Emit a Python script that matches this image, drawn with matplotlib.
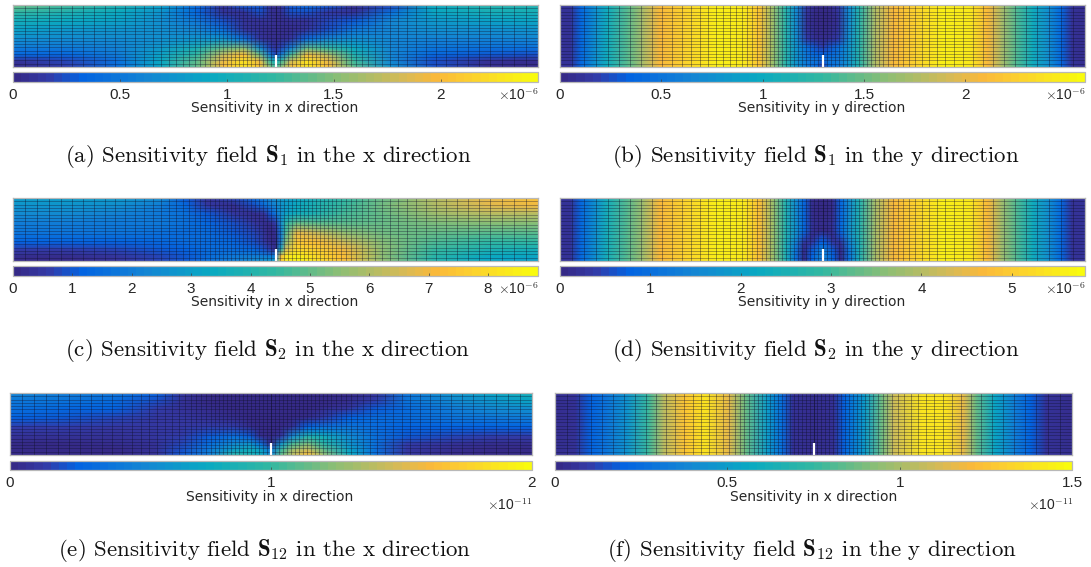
"""Six sensitivity fields on a cracked strip, with parula-like colour bars."""
import matplotlib
matplotlib.use("Agg")
import matplotlib.pyplot as plt
import numpy as np
from matplotlib.colors import LinearSegmentedColormap, Normalize

W, H = 1091, 567

# colour map anchors
CMAP_POS = [0, 0.06, 0.125, 0.25, 0.375, 0.5, 0.625, 0.75, 0.8125, 0.875, 1]
CMAP_COL = ["#352a87", "#343aa6", "#0363e1", "#1485d4", "#09a9c2", "#33b8a1",
            "#8dbe74", "#d8ba55", "#fbb93a", "#fccf30", "#f9fb0e"]

# mesh column widths, edge to crack (mirrored about the crack)
MESH_COLS = [12, 12, 12, 12, 11, 11, 11, 11, 10, 10, 10, 9, 9, 8, 8, 7, 7, 6, 6, 5, 5, 5, 5,
             4, 4, 4, 4, 4, 4, 4, 4, 4, 4, 4, 4, 4, 4, 4]
MESH_ROWS = 19

# (a) S1, x direction
a_x = [0, .1, .2, .28, .35, .4, .44, .47, .49, .5, .51, .53, .56, .6, .65, .72, .8, .9, 1]
a_y = [0, .12, .25, .4, .55, .7, .8, .9, 1]
a_vals = [
    [1.45, 1.3, 1.1, .85, .4, .1, .3, .3, .1, .05, .1, .3, .4, .3, .05, .2, .95, 1.15, 1.1],
    [1.2, 1.1, .95, .75, .35, .1, .1, .25, .1, .05, .1, .25, .25, .12, .1, .45, .9, 1.0, 1.0],
    [1.0, .95, .85, .7, .5, .25, .1, .1, .08, .05, .05, .1, .1, .2, .3, .65, .8, .85, .9],
    [.85, .8, .75, .7, .65, .45, .15, .08, .05, .05, .05, .06, .12, .25, .5, .65, .7, .72, .75],
    [.7, .68, .68, .7, .75, .75, .45, .12, .06, .05, .06, .12, .4, .65, .7, .62, .6, .6, .62],
    [.52, .52, .6, .8, 1.05, 1.4, 1.5, .7, .2, .1, .2, .6, 1.4, 1.25, .95, .62, .48, .45, .45],
    [.35, .38, .55, .85, 1.2, 1.75, 2.0, 1.4, .5, .2, .5, 1.3, 1.95, 1.65, 1.1, .62, .35, .27, .25],
    [.08, .2, .45, .9, 1.35, 1.9, 2.25, 1.9, 1.2, .9, 1.2, 1.8, 2.25, 1.9, 1.25, .65, .25, .1, .05],
    [.03, .18, .45, .9, 1.4, 2.0, 2.3, 2.05, 1.5, 1.2, 1.5, 2.0, 2.3, 2.0, 1.35, .7, .25, .06, .03],
]

# (b) S1, y direction: same outer columns on every row, only the core changes
b_x = [0, .02, .04, .07, .09, .13, .16, .19, .24, .3, .35, .38, .41, .43,
       .45, .47, .49, .5, .51, .53, .55,
       .57, .6, .635, .68, .73, .78, .815, .84, .87, .9, .93, .955, .975, 1]
b_y = [0, .3, .55, .68, .8, .9, 1]
b_left = [.1, .1, .4, .8, 1.05, 1.45, 1.75, 2.1, 2.3, 2.5, 2.45, 2.15, 1.6, 1.2]
b_right = [1.2, 1.75, 2.1, 2.3, 2.5, 2.45, 2.1, 1.75, 1.4, 1.05, .75, .4, .1, .08]
b_core = [
    [.7, .15, .03, .03, .03, .15, .7],
    [.7, .12, .03, .03, .03, .12, .7],
    [.75, .2, .05, .05, .05, .2, .75],
    [.8, .45, .25, .2, .25, .45, .8],
    [.8, .5, .4, .35, .4, .5, .8],
    [.8, .55, .5, .3, .5, .55, .8],
    [.8, .55, .4, .1, .4, .55, .8],
]

# (c) S2, x direction
c_x = [0, .1, .2, .28, .33, .37, .42, .46, .48, .49, .5, .51, .52, .54, .58, .63, .7, .8, .9, 1]
c_y = [0, .12, .25, .4, .55, .7, .82, .92, 1]
c_vals = [
    [3.0, 3.0, 2.9, 2.4, 1.0, .4, .8, 1.4, 2.0, 2.3, 2.5, 2.8, 3.0, 3.3, 3.8, 4.4, 5.1, 6.0, 6.9, 7.4],
    [2.7, 2.7, 2.5, 2.0, 1.3, .5, .2, .9, 1.6, 2.0, 2.3, 2.7, 3.0, 3.4, 3.9, 4.5, 5.2, 6.0, 6.7, 7.0],
    [2.4, 2.4, 2.2, 1.9, 1.6, 1.1, .5, .2, .5, 1.0, 1.7, 2.6, 3.1, 3.5, 4.0, 4.6, 5.1, 5.7, 6.1, 6.2],
    [2.0, 2.0, 1.9, 1.8, 1.6, 1.3, .9, .5, .15, .15, .6, 2.4, 4.2, 5.0, 4.9, 4.9, 5.0, 5.3, 5.5, 5.5],
    [1.7, 1.7, 1.7, 1.6, 1.5, 1.4, 1.1, .7, .3, .12, .15, 1.8, 4.8, 6.8, 6.3, 5.6, 5.2, 5.0, 4.9, 4.9],
    [1.2, 1.2, 1.2, 1.3, 1.4, 1.4, 1.3, .9, .5, .2, .1, 2.0, 5.5, 7.5, 7.2, 6.4, 5.4, 4.7, 4.4, 4.3],
    [.6, .6, .8, 1.0, 1.2, 1.4, 1.5, 1.3, .9, .6, .1, 3.5, 6.5, 8.0, 7.7, 7.0, 5.6, 4.5, 3.9, 3.7],
    [.2, .2, .5, .8, 1.1, 1.5, 1.8, 2.0, 2.0, 1.9, 2.0, 7.0, 8.2, 8.5, 8.0, 7.2, 5.6, 4.2, 3.4, 3.2],
    [.1, .1, .4, .75, 1.1, 1.6, 2.0, 2.4, 2.7, 2.9, 3.0, 7.5, 8.4, 8.6, 8.1, 7.3, 5.6, 4.1, 3.2, 3.0],
]

# (d) S2, y direction
d_x = [0, .02, .04, .07, .09, .13, .16, .19, .24, .3, .35, .38, .41,
       .43, .45, .465, .48, .495, .5, .505, .52, .535, .55, .57,
       .6, .635, .68, .73, .78, .815, .84, .87, .9, .93, .955, .975, 1]
d_y = [0, .25, .42, .52, .62, .72, .82, .92, 1]
d_left = [.2, .2, .9, 1.8, 2.4, 3.2, 3.9, 4.7, 5.1, 5.6, 5.5, 4.8, 3.6]
d_right = [3.9, 4.7, 5.1, 5.6, 5.5, 4.7, 3.9, 3.1, 2.3, 1.7, .9, .2, .2]
d_core = [
    [2.6, 1.6, .9, .15, .05, .05, .05, .15, .9, 1.6, 2.6],
    [2.6, 1.6, .9, .12, .05, .05, .05, .12, .9, 1.6, 2.6],
    [2.6, 1.7, .9, .25, .1, .1, .1, .25, .9, 1.7, 2.6],
    [2.6, 1.7, .9, .2, .08, .06, .08, .2, .9, 1.7, 2.6],
    [2.6, 1.6, .6, .1, .5, .6, .5, .1, .6, 1.6, 2.6],
    [2.5, 1.3, .25, .4, .8, .9, .8, .4, .25, 1.3, 2.5],
    [2.5, 1.1, .08, .7, 1.2, 1.4, 1.2, .7, .08, 1.1, 2.5],
    [2.5, 1.0, .05, .8, 1.4, 1.2, 1.4, .8, .05, 1.0, 2.5],
    [2.5, 1.0, .05, .8, 1.3, .6, 1.3, .8, .05, 1.0, 2.5],
]

# (e) S12, x direction
e_x = [0, .1, .2, .28, .33, .38, .43, .46, .48, .5, .52, .54, .57, .6, .65, .7, .76, .85, .93, 1]
e_y = [0, .12, .25, .4, .55, .7, .82, .92, 1]
e_vals = [
    [.5, .45, .38, .25, .1, .03, .03, .03, .03, .03, .03, .03, .03, .03, .03, .08, .4, .6, .72, .82],
    [.42, .38, .32, .2, .08, .03, .03, .03, .03, .03, .03, .03, .03, .03, .05, .15, .38, .55, .65, .72],
    [.35, .3, .25, .15, .08, .05, .03, .03, .03, .03, .03, .03, .03, .05, .1, .22, .34, .46, .54, .58],
    [.25, .22, .18, .12, .1, .08, .05, .03, .03, .03, .03, .03, .05, .15, .25, .32, .34, .38, .42, .44],
    [.15, .14, .12, .12, .12, .14, .14, .05, .03, .03, .03, .08, .25, .36, .4, .34, .28, .28, .28, .28],
    [.08, .08, .08, .1, .15, .24, .36, .24, .05, .03, .1, .5, .9, .8, .55, .36, .22, .17, .15, .15],
    [.03, .03, .05, .08, .17, .34, .55, .6, .35, .03, .6, 1.05, 1.2, .95, .6, .35, .15, .08, .06, .06],
    [.02, .02, .03, .07, .2, .42, .7, .8, .7, .4, 1.0, 1.3, 1.45, 1.15, .7, .35, .12, .04, .03, .02],
    [.02, .02, .03, .07, .22, .46, .95, .85, .75, .5, 1.15, 1.4, 1.65, 1.3, .75, .35, .1, .03, .02, .02],
]

# (f) S12, y direction: the same profile from top to bottom
f_x = [0, .04, .07, .1, .14, .18, .21, .25, .29, .335, .37, .41, .44, .46, .5, .54, .56,
       .6, .63, .655, .71, .755, .79, .815, .85, .89, .92, .95, 1]
f_y = [0, 1]
f_profile = [.03, .05, .2, .3, .45, .75, 1.05, 1.25, 1.4, 1.15, .85, .5, .25, .05, .03, .05, .2,
             .5, .85, 1.1, 1.4, 1.4, 1.15, .85, .55, .35, .2, .06, .03]

a_ticks = [0, .5, 1, 1.5, 2]
b_ticks = [0, .5, 1, 1.5, 2]
c_ticks = [0, 1, 2, 3, 4, 5, 6, 7, 8]
d_ticks = [0, 1, 2, 3, 4, 5]
e_ticks = [0, 1, 2]
f_ticks = [0, .5, 1, 1.5]

a_grid = a_vals
b_grid = [b_left + row + b_right for row in b_core]
c_grid = c_vals
d_grid = [d_left + row + d_right for row in d_core]
e_grid = e_vals
f_grid = [f_profile, f_profile]

PANELS = [
    dict(x=a_x, y=a_y, z=a_grid, vmax=2.455, ticks=a_ticks, box=(13, 538, 5, 67), bar=(72, 82),
         tick_y=95, label="Sensitivity in x direction", label_xy=(275, 108), exp="-6", exp_xy=(539, 95),
         caption=r"(a) Sensitivity field $\mathbf{S}_1$ in the x direction", cap_xy=(268, 157)),
    dict(x=b_x, y=b_y, z=b_grid, vmax=2.59, ticks=b_ticks, box=(560, 1085, 5, 67), bar=(72, 82),
         tick_y=95, label="Sensitivity in y direction", label_xy=(822, 108), exp="-6", exp_xy=(1086, 95),
         caption=r"(b) Sensitivity field $\mathbf{S}_1$ in the y direction", cap_xy=(816, 157)),
    dict(x=c_x, y=c_y, z=c_grid, vmax=8.84, ticks=c_ticks, box=(13, 538, 198, 261), bar=(266, 276),
         tick_y=289, label="Sensitivity in x direction", label_xy=(275, 302), exp="-6", exp_xy=(539, 289),
         caption=r"(c) Sensitivity field $\mathbf{S}_2$ in the x direction", cap_xy=(268, 351)),
    dict(x=d_x, y=d_y, z=d_grid, vmax=5.81, ticks=d_ticks, box=(560, 1085, 198, 261), bar=(266, 276),
         tick_y=289, label="Sensitivity in y direction", label_xy=(822, 302), exp="-6", exp_xy=(1086, 289),
         caption=r"(d) Sensitivity field $\mathbf{S}_2$ in the y direction", cap_xy=(816, 351)),
    dict(x=e_x, y=e_y, z=e_grid, vmax=2, ticks=e_ticks, box=(10, 532, 393, 455), bar=(461, 470),
         tick_y=483, label="Sensitivity in x direction", label_xy=(270, 497), exp="-11", exp_xy=(532, 505),
         caption=r"(e) Sensitivity field $\mathbf{S}_{12}$ in the x direction", cap_xy=(265, 551)),
    dict(x=f_x, y=f_y, z=f_grid, vmax=1.5, ticks=f_ticks, box=(555, 1072, 393, 455), bar=(461, 470),
         tick_y=483, label="Sensitivity in x direction", label_xy=(814, 497), exp="-11", exp_xy=(1073, 505),
         caption=r"(f) Sensitivity field $\mathbf{S}_{12}$ in the y direction", cap_xy=(812, 551)),
]


def px_axes(fig, x0, x1, y0, y1):
    return fig.add_axes([x0 / W, 1 - y1 / H, (x1 - x0) / W, (y1 - y0) / H])


def draw_panel(fig, cmap, mesh_x, mesh_y, p):
    x0, x1, y0, y1 = p["box"]
    ax = px_axes(fig, x0, x1, y0, y1)
    norm = Normalize(0, p["vmax"])
    quad = ax.pcolormesh(p["x"], p["y"], np.array(p["z"]), cmap=cmap, norm=norm,
                         shading="gouraud", rasterized=True)
    ax.set_xlim(0, 1)
    ax.set_ylim(1, 0)
    ax.vlines(mesh_x, 0, 1, color="#10102a", lw=0.6, alpha=0.45)
    ax.hlines(mesh_y, 0, 1, color="#10102a", lw=0.6, alpha=0.4)
    ax.plot([0.5, 0.5], [0.81, 1], color="white", lw=1.6, solid_capstyle="butt")
    ax.set_xticks([])
    ax.set_yticks([])
    for s in ax.spines.values():
        s.set_color("#b8b8b8")
        s.set_linewidth(0.9)

    cax = px_axes(fig, x0, x1, p["bar"][0], p["bar"][1])
    cb = fig.colorbar(quad, cax=cax, orientation="horizontal", ticks=p["ticks"])
    cb.ax.tick_params(length=2, width=0.5, color="#404040", direction="in", labelbottom=False)
    cb.outline.set_edgecolor("#b8b8b8")
    cb.outline.set_linewidth(0.9)

    for t in p["ticks"]:
        fig.text((x0 + (x1 - x0) * t / p["vmax"]) / W, 1 - p["tick_y"] / H, f"{t:g}",
                 ha="center", va="center", fontsize=11, family="Liberation Sans", color="#262626")
    fig.text(p["label_xy"][0] / W, 1 - p["label_xy"][1] / H, p["label"], ha="center", va="center",
             fontsize=10, family="DejaVu Sans", color="#262626")
    fig.text(p["exp_xy"][0] / W, 1 - p["exp_xy"][1] / H, r"$\times$10$^{%s}$" % p["exp"],
             ha="right", va="center", fontsize=10, family="Liberation Sans", color="#262626")
    fig.text(p["cap_xy"][0] / W, 1 - p["cap_xy"][1] / H, p["caption"], ha="center", va="center",
             fontsize=16.5, family="cmr10", color="#111111")


def main():
    plt.rcParams["mathtext.fontset"] = "cm"
    plt.rcParams["axes.formatter.use_mathtext"] = True
    cmap = LinearSegmentedColormap.from_list("parula_like", list(zip(CMAP_POS, CMAP_COL)), N=64)

    half = np.cumsum(MESH_COLS) / (2 * sum(MESH_COLS))
    mesh_x = np.concatenate([half, 1 - half])
    mesh_y = np.arange(1, MESH_ROWS) / MESH_ROWS

    fig = plt.figure(figsize=(W / 100, H / 100), dpi=100)
    for p in PANELS:
        draw_panel(fig, cmap, mesh_x, mesh_y, p)
    fig.savefig("out.png", dpi=100)
    plt.close(fig)


if __name__ == "__main__":
    main()
